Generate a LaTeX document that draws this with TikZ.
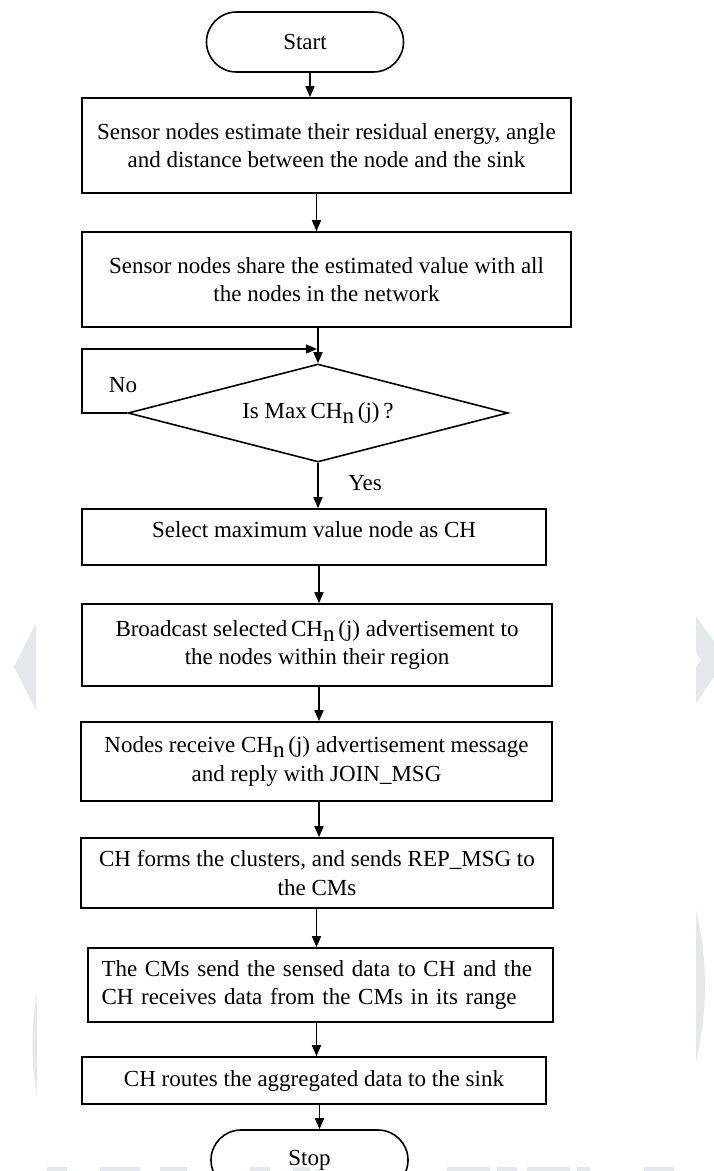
\documentclass[tikz,border=0pt]{standalone}
\usepackage{fontspec}
\setmainfont{Liberation Serif}
\usetikzlibrary{shapes.geometric,shapes.misc,arrows.meta}
\definecolor{wm}{RGB}{226,232,235}
\newcommand{\CHn}{CH\raisebox{-5pt}{n}\,(j)}
\tikzset{
  txt/.style={font=\fontsize{23}{28.5}\selectfont},
  box/.style={draw, rectangle, line width=1.6pt, inner sep=0pt, align=center, txt},
  term/.style={draw, rounded rectangle, line width=1.6pt, minimum width=197pt, minimum height=60pt, inner sep=0pt, txt},
  dia/.style={draw, diamond, aspect=3.9, line width=1.6pt, minimum width=380pt, minimum height=98pt, inner sep=0pt, txt},
  arr/.style={line width=1.6pt, -{Triangle[length=11pt,width=9pt]}},
  wmark/.style={fill=wm, draw=none}
}
\begin{document}
\begin{tikzpicture}[x=1pt,y=-1pt]
\useasboundingbox (0,0) rectangle (714,1171);
\fill[white] (0,0) rectangle (714,1171);
\clip (0,0) rectangle (714,1171);
% watermark shapes
\fill[wmark] (36,623) -- (14,667) -- (36,710) -- cycle;
\fill[wmark] (696,617) -- (714,641) -- (714,677) -- (696,703) -- (696,667) -- (701,660) -- (696,652) -- cycle;
\fill[wmark] (696,910) .. controls (708,960) and (708,1010) .. (696,1062) -- cycle;
\fill[wmark] (37,993) .. controls (31,1030) and (31,1060) .. (37,1097) -- cycle;
\foreach \a/\b in {47/67,100/140,160/187,250/270,293/310,447/490,497/517,527/570,577/590,644/674}
  \fill[wmark] (\a,1167) rectangle (\b,1171);
% nodes
\node[term] (start) at (305,42) {Start};
\node[box, minimum width=489pt, minimum height=95pt] (b1) at (326.5,145.5)
  {Sensor nodes estimate their residual energy, angle\\and distance between the node and the sink};
\node[box, minimum width=489pt, minimum height=95pt] (b2) at (326.5,279.5)
  {Sensor nodes share the estimated value with all\\the nodes in the network};
\node[dia] (dec) at (318,413) {Is Max\,\CHn\,?};
\node[box, minimum width=464pt, minimum height=56pt, text height=13pt, text depth=13pt] (b3) at (314,537)
  {Select maximum value node as CH};
\node[box, minimum width=470pt, minimum height=82pt] (b4) at (317,645)
  {Broadcast selected\,\CHn{} advertisement to\\the nodes within their region};
\node[box, minimum width=471pt, minimum height=79pt] (b5) at (316.5,761.5)
  {Nodes receive \CHn{} advertisement message\\and reply with JOIN\_MSG};
\node[box, minimum width=472pt, minimum height=70pt] (b6) at (317,873)
  {CH forms the clusters, and sends REP\_MSG to\\the CMs};
\node[box, minimum width=465pt, minimum height=74pt, text width=438pt, align=left] (b7) at (320.5,985)
  {\makebox[438pt][s]{The CMs send the sensed data to CH and the}\\CH receives data from the CMs in its range};
\node[box, minimum width=464pt, minimum height=47pt] (b8) at (314,1080.5)
  {CH routes the aggregated data to the sink};
\node[term, minimum width=197pt] (stop) at (309.5,1160) {Stop};
\node[txt] (no) at (123,385) {No};
\node[txt] (yes) at (365,483) {Yes};
% helper columns
\coordinate (c1) at (310,0);
\coordinate (c2) at (316.5,0);
\coordinate (c5) at (319,0);
\coordinate (c9) at (319.5,0);
\coordinate (loopL) at (82,349);
\coordinate (join) at (317,349);
% connectors
\draw[arr] (start.south -| c1) -- (b1.north -| c1);
\draw[arr] (b1.south -| c2) -- (b2.north -| c2);
\draw[arr] (b2.south -| dec.north) -- (dec.north);
\draw[arr] (dec.west) -| (loopL) -- (join);
\draw[arr] (dec.south) -- (b3.north -| dec.south);
\draw[arr] (b3.south -| c5) -- (b4.north -| c5);
\draw[arr] (b4.south -| c5) -- (b5.north -| c5);
\draw[arr] (b5.south -| c5) -- (b6.north -| c5);
\draw[arr] (b6.south -| c2) -- (b7.north -| c2);
\draw[arr] (b7.south -| c2) -- (b8.north -| c2);
\draw[arr] (b8.south -| c9) -- (stop.north -| c9);
\end{tikzpicture}
\end{document}
